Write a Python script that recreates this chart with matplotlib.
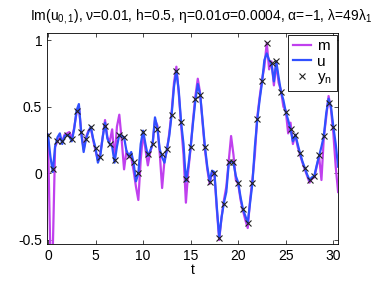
import numpy as np
import matplotlib
matplotlib.use("Agg")
from matplotlib import pyplot as plt

plt.rcParams['font.family'] = ['Liberation Sans', 'DejaVu Sans']
plt.rcParams['mathtext.fontset'] = 'custom'
plt.rcParams['mathtext.rm'] = 'Liberation Sans'
plt.rcParams['mathtext.it'] = 'Liberation Sans'

# time grid of the curves (step 0.25)
t_curve = np.arange(0, 30.51, 0.25)

# u (filter mean)
u_vals = [
    0.29, 0.13, 0.01, 0.20, 0.27, 0.30, 0.22, 0.28,    # 0 - 1.75
    0.29, 0.28, 0.24, 0.33, 0.47, 0.52, 0.30, 0.16,    # 2 - 3.75
    0.26, 0.31, 0.35, 0.26, 0.19, 0.08, 0.13, 0.27,    # 4 - 5.75
    0.38, 0.26, 0.22, 0.20, 0.08, 0.20, 0.29, 0.28,    # 6 - 7.75
    0.27, 0.17, 0.13, 0.16, 0.08, -0.06, 0.00, 0.22,   # 8 - 9.75
    0.32, 0.22, 0.13, 0.17, 0.22, 0.42, 0.34, 0.18,    # 10 - 11.75
    0.12, 0.08, 0.18, 0.28, 0.44, 0.65, 0.77, 0.62,    # 12 - 13.75
    0.38, 0.22, -0.06, 0.05, 0.20, 0.38, 0.55, 0.67,   # 14 - 15.75
    0.59, 0.40, 0.20, 0.05, -0.06, 0.02, 0.01, -0.25,  # 16 - 17.75
    -0.48, -0.33, -0.22, -0.14, 0.07, 0.09, 0.08, -0.02,  # 18 - 19.75
    -0.07, -0.18, -0.27, -0.32, -0.37, -0.22, -0.07, 0.20,  # 20 - 21.75
    0.40, 0.55, 0.68, 0.85, 0.90, 0.85, 0.82, 0.69,    # 22 - 23.75
    0.84, 0.72, 0.61, 0.55, 0.46, 0.40, 0.33, 0.24,    # 24 - 25.75
    0.29, 0.22, 0.15, 0.09, 0.04, -0.01, -0.05, -0.03,  # 26 - 27.75
    -0.02, 0.06, 0.13, 0.20, 0.28, 0.45, 0.56, 0.50,   # 28 - 29.75
    0.35, 0.22, 0.05,                                  # 30 - 30.5
]

# m (signal)
m_vals = [
    0.29, -0.60, -0.60, 0.20, 0.24, 0.27, 0.24, 0.29,
    0.30, 0.31, 0.26, 0.34, 0.45, 0.50, 0.31, 0.18,
    0.27, 0.32, 0.34, 0.25, 0.17, 0.10, 0.15, 0.27,
    0.40, 0.27, 0.24, 0.33, 0.10, 0.35, 0.44, 0.25,
    0.03, 0.17, 0.12, 0.12, 0.02, -0.10, -0.20, 0.10,
    0.30, 0.18, 0.06, 0.16, 0.22, 0.40, 0.36, 0.15,
    -0.11, 0.10, 0.17, 0.30, 0.46, 0.68, 0.80, 0.60,
    0.36, 0.14, -0.22, 0.02, 0.19, 0.40, 0.58, 0.71,
    0.60, 0.38, 0.18, 0.03, -0.08, 0.01, -0.01, -0.27,
    -0.50, -0.33, -0.20, -0.10, 0.09, 0.28, 0.14, -0.05,
    -0.08, -0.20, -0.28, -0.35, -0.41, -0.20, -0.04, 0.14,
    0.42, 0.57, 0.70, 0.80, 0.98, 0.78, 0.84, 0.66,
    0.82, 0.68, 0.62, 0.50, 0.47, 0.30, 0.38, 0.22,
    0.29, 0.20, 0.14, 0.08, 0.03, -0.02, -0.07, -0.04,
    -0.03, 0.05, 0.13, -0.05, 0.27, 0.42, 0.58, 0.48,
    0.30, 0.05, -0.14,
]

# observations y_n every 0.5
t_obs = np.arange(0, 30.01, 0.5)
y_obs = [
    0.29, 0.03, 0.24, 0.24, 0.29, 0.26, 0.47, 0.31, 0.26, 0.35,
    0.19, 0.125, 0.355, 0.22, 0.10, 0.285, 0.27, 0.128, 0.083, 0.005,
    0.31, 0.143, 0.22, 0.333, 0.145, 0.18, 0.44, 0.77, 0.385, -0.04,
    0.20, 0.556, 0.59, 0.195, -0.065, 0.005, -0.487, -0.23, 0.087, 0.087,
    -0.07, -0.27, -0.37, -0.075, 0.41, 0.69, 0.975, 0.83, 0.84, 0.61,
    0.46, 0.335, 0.29, 0.155, 0.04, -0.053, -0.018, 0.135, 0.28, 0.526,
    0.35,
]

fig = plt.figure(figsize=(3.74, 2.81), dpi=100)
ax = fig.add_axes([0.1257, 0.1317, 0.7783, 0.7509])

ax.plot(t_curve, m_vals, color='#c040ee', lw=1.6, label='m')
ax.plot(t_curve, u_vals, color='#3050ff', lw=1.6, label='u')
ax.plot(t_obs, y_obs, 'x', color='#202020', ms=4, mew=0.8, label='y$_n$')

ax.set_xlim(-0.1, 30.5)
ax.set_ylim(-0.53, 1.053)
ax.set_xticks([0, 5, 10, 15, 20, 25, 30])
ax.set_yticks([-0.5, 0, 0.5, 1])
ax.set_yticklabels(['-0.5', '0', '0.5', '1'])
ax.tick_params(direction='in', top=True, right=True, labelsize=10, length=3, width=0.5)
for s in ax.spines.values():
    s.set_linewidth(0.6)

ax.set_xlabel('t', fontsize=10, labelpad=0)
title = ax.set_title('Im(u$_{0,1}$), \u03bd=0.01, h=0.5, \u03b7=0.01\u03c3=0.0004, \u03b1=\u22121, \u03bb=49\u03bb$_1$',
                     fontsize=10, pad=9)
title.set_x(0.53)

leg = ax.legend(loc='upper right', fontsize=11, handlelength=1.2, borderaxespad=0.1,
                fancybox=False, framealpha=1, edgecolor='black', borderpad=0.3,
                labelspacing=0.1, handletextpad=0.4)
leg.get_frame().set_linewidth(0.6)

fig.savefig('out.png', dpi=100)
